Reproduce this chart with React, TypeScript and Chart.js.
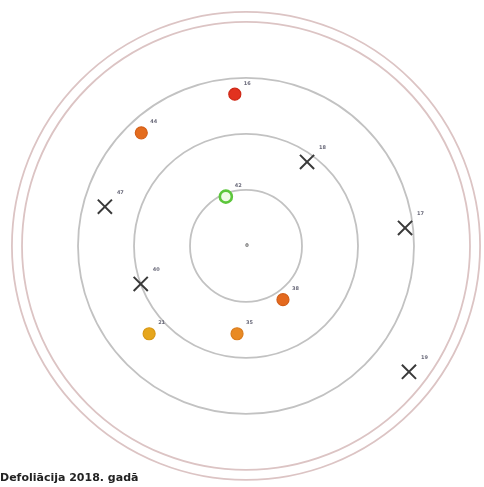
import React, { useEffect, useRef } from "react";
import { Chart, registerables } from "chart.js";

Chart.register(...registerables);

// Ring radii (data units)
const ringRadii = [1, 2, 3];
const outerRingRadii = [4, 4.18];

// Trees: positions (data units), labels
const circleX = [-0.2, -1.87, -0.36, 0.66, -1.73, -0.16];
const circleY = [2.71, 2.02, 0.88, -0.96, -1.57, -1.57];
const circleLabels = ["16", "44", "42", "38", "21", "35"];
const circleFill = ["#e2321f", "#e46c1e", "#effbe6", "#e4691e", "#e6a61c", "#e98a24"];
const circleBorder = ["#cf2a18", "#d4601a", "#5cc63b", "#d25e18", "#d89816", "#db7d1e"];

const crossX = [1.09, -2.52, 2.84, -1.88, 2.91];
const crossY = [1.5, 0.7, 0.32, -0.68, -2.25];
const crossLabels = ["18", "47", "17", "40", "19"];

const centerLabel = "0";
const titleText = "Defoliācija 2018. gadā";

export default function App() {
  const ref = useRef<HTMLCanvasElement | null>(null);
  useEffect(() => {
    document.body.style.margin = "0";
    if (!ref.current) return;
    const ringsPlugin = {
      id: "rings",
      beforeDatasetsDraw(chart: any) {
        const { ctx, scales } = chart;
        const xs = scales.x, ys = scales.y;
        const cx = xs.getPixelForValue(0), cy = ys.getPixelForValue(0);
        const unit = xs.getPixelForValue(1) - cx;
        ctx.save();
        ctx.lineWidth = 1.8;
        ctx.strokeStyle = "#c2c2c2";
        ringRadii.forEach((r) => {
          ctx.beginPath();
          ctx.arc(cx, cy, r * unit, 0, Math.PI * 2);
          ctx.stroke();
        });
        ctx.strokeStyle = "#dcc4c4";
        outerRingRadii.forEach((r) => {
          ctx.beginPath();
          ctx.arc(cx, cy, r * unit, 0, Math.PI * 2);
          ctx.stroke();
        });
        ctx.restore();
      },
      afterDatasetsDraw(chart: any) {
        const { ctx, scales } = chart;
        const xs = scales.x, ys = scales.y;
        ctx.save();
        ctx.font = "bold 5px 'DejaVu Sans'";
        ctx.fillStyle = "#6a6a7a";
        ctx.textAlign = "left";
        ctx.textBaseline = "middle";
        circleX.forEach((x, i) => {
          ctx.fillText(circleLabels[i], xs.getPixelForValue(x) + 9, ys.getPixelForValue(circleY[i]) - 11);
        });
        crossX.forEach((x, i) => {
          ctx.fillText(crossLabels[i], xs.getPixelForValue(x) + 12, ys.getPixelForValue(crossY[i]) - 14);
        });
        ctx.fillStyle = "#555";
        ctx.textAlign = "center";
        ctx.fillText(centerLabel, xs.getPixelForValue(0) + 1, ys.getPixelForValue(0));
        ctx.restore();
      },
    };
    const chart = new Chart(ref.current, {
      type: "scatter",
      data: {
        datasets: [
          {
            label: "crosses",
            data: crossX.map((x, i) => ({ x, y: crossY[i] })),
            pointStyle: "crossRot",
            pointRadius: 10,
            borderColor: "#3a3a3a",
            borderWidth: 2,
          },
          {
            label: "trees",
            data: circleX.map((x, i) => ({ x, y: circleY[i] })),
            pointStyle: "circle",
            pointRadius: 6,
            backgroundColor: circleFill,
            borderColor: circleBorder,
            borderWidth: circleFill.map((_, i) => (i === 2 ? 2.6 : 1.2)),
          },
        ],
      },
      options: {
        animation: false,
        responsive: true,
        maintainAspectRatio: false,
        layout: { padding: 0, autoPadding: false },
        plugins: {
          legend: { display: false },
          tooltip: { enabled: false },
          title: {
            display: true,
            text: titleText,
            position: "bottom",
            align: "start",
            color: "#222",
            font: { family: "'DejaVu Sans'", size: 11, weight: "bold" },
            padding: { top: 0, bottom: 2 },
          },
        },
        scales: {
          x: { type: "linear", display: false, min: -4.393, max: 4.25 },
          y: { type: "linear", display: false, min: -4.036, max: 4.393 },
        },
      },
      plugins: [ringsPlugin],
    } as any);
    return () => chart.destroy();
  }, []);
  return (
    <div style={{ width: 484, height: 487, position: "relative" }}>
      <canvas ref={ref} />
    </div>
  );
}
